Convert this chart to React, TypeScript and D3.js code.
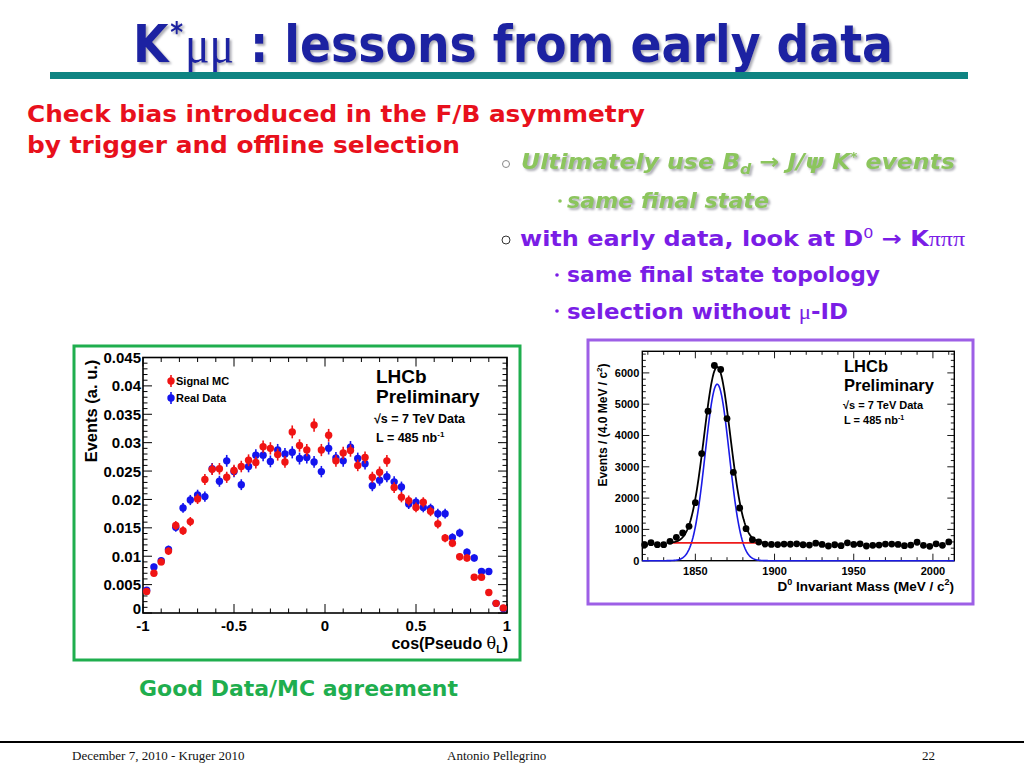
import { scaleLinear, range, line } from 'd3'

// ---- left plot: cos(Pseudo theta_L), 50 bins ----
const cosThetaBins = [
  -0.98, -0.94, -0.9, -0.86, -0.82, -0.78, -0.74, -0.7, -0.66, -0.62,
  -0.58, -0.54, -0.5, -0.46, -0.42, -0.38, -0.34, -0.3, -0.26, -0.22,
  -0.18, -0.14, -0.1, -0.06, -0.02, 0.02, 0.06, 0.1, 0.14, 0.18,
  0.22, 0.26, 0.3, 0.34, 0.38, 0.42, 0.46, 0.5, 0.54, 0.58,
  0.62, 0.66, 0.7, 0.74, 0.78, 0.82, 0.86, 0.9, 0.94, 0.98,
]
const signalMC = [
  0.0038, 0.007, 0.009, 0.0109, 0.0154, 0.0145, 0.0161, 0.0201, 0.0235, 0.0253,
  0.0254, 0.0239, 0.0251, 0.0258, 0.0269, 0.0265, 0.0293, 0.029, 0.0279, 0.0266,
  0.0319, 0.0295, 0.0287, 0.0331, 0.0287, 0.0313, 0.0268, 0.0282, 0.0286, 0.026,
  0.0274, 0.0239, 0.0248, 0.0268, 0.0221, 0.0204, 0.0198, 0.0186, 0.0195, 0.0179,
  0.0157, 0.0132, 0.0123, 0.0099, 0.0097, 0.0063, 0.0063, 0.0036, 0.0017, 0.0009,
]
const realData = [
  0.004, 0.0081, 0.0092, 0.0112, 0.0151, 0.0185, 0.0199, 0.0208, 0.0205, 0.0254,
  0.0232, 0.0268, 0.0249, 0.0226, 0.0258, 0.0278, 0.0278, 0.0267, 0.0287, 0.028,
  0.0283, 0.0272, 0.0274, 0.0266, 0.0249, 0.029, 0.0273, 0.0268, 0.0292, 0.0272,
  0.0263, 0.0224, 0.0234, 0.024, 0.0231, 0.0222, 0.0192, 0.0195, 0.0186, 0.0184,
  0.0175, 0.0175, 0.0133, 0.0141, 0.0107, 0.0097, 0.0073, 0.0073, 0.0017, 0.0008,
]
const cosTicks = [-1, -0.5, 0, 0.5, 1]
const cosTickLabels = ['-1', '-0.5', '0', '0.5', '1']
const eventTicks = [0, 0.005, 0.01, 0.015, 0.02, 0.025, 0.03, 0.035, 0.04, 0.045]
const eventTickLabels = ['0', '0.005', '0.01', '0.015', '0.02', '0.025', '0.03', '0.035', '0.04', '0.045']

// ---- right plot: D0 invariant mass, 4 MeV bins ----
const massBins = [
  1818, 1822, 1826, 1830, 1834, 1838, 1842, 1846, 1850, 1854, 1858, 1862, 1866,
  1870, 1874, 1878, 1882, 1886, 1890, 1894, 1898, 1902, 1906, 1910, 1914, 1918,
  1922, 1926, 1930, 1934, 1938, 1942, 1946, 1950, 1954, 1958, 1962, 1966, 1970,
  1974, 1978, 1982, 1986, 1990, 1994, 1998, 2002, 2006, 2010,
]
const massCounts = [
  512, 576, 512, 512, 618, 746, 885, 1098, 1855, 3422, 4776, 6237, 6109,
  4542, 2825, 1684, 1023, 672, 597, 530, 520, 515, 530, 525, 540, 510,
  500, 560, 520, 470, 510, 480, 570, 520, 540, 470, 490, 500, 530,
  530, 520, 480, 500, 590, 490, 460, 540, 490, 600,
]
const massTicks = [1850, 1900, 1950, 2000]
const countTicks = [0, 1000, 2000, 3000, 4000, 5000, 6000]

// fit result (gaussian signal + flat background)
const fitMean = 1863.8
const sigSigma = 7.6
const sigPeak = 5640
const totSigma = 8.3
const totPeak = 5620
const bkgLevel = 570

const ROOT_FONT = 'Liberation Sans, Arial, sans-serif'
const SLIDE_FONT = 'DejaVu Sans, sans-serif'
const GREEK = 'Liberation Serif, serif'

const AnglePlot = () => {
  const x0 = 143, x1 = 507, y0 = 613, y1 = 357.5
  const x = scaleLinear().domain([-1, 1]).range([x0, x1])
  const y = scaleLinear().domain([0, 0.045]).range([y0, y1])
  const minorY = range(0, 0.0451, 0.001).filter((_, i) => i % 5 !== 0)
  const minorX = range(-1, 1.001, 0.1).filter((_, i) => i % 5 !== 0)
  const err = (v: number) => 0.0011 * Math.sqrt(v / 0.03)

  const points = (vals: number[], color: string) =>
    vals.map((v, i) => (
      <g key={color + i}>
        <line x1={x(cosThetaBins[i])} x2={x(cosThetaBins[i])} y1={y(v + err(v))} y2={y(Math.max(0, v - err(v)))} stroke={color} strokeWidth={1.6} />
        <circle cx={x(cosThetaBins[i])} cy={y(v)} r={3.7} fill={color} />
      </g>
    ))

  return (
    <g>
      <rect x={74} y={346} width={446} height={314} fill="none" stroke="#1fae4e" strokeWidth={3} />
      <rect x={x0} y={y1} width={x1 - x0} height={y0 - y1} fill="#fff" stroke="#000" strokeWidth={1.6} />
      {eventTicks.map(t => (
        <g key={'ym' + t}>
          <line x1={x0} x2={x0 + 9} y1={y(t)} y2={y(t)} stroke="#000" />
          <line x1={x1} x2={x1 - 9} y1={y(t)} y2={y(t)} stroke="#000" />
        </g>
      ))}
      {minorY.map(t => (
        <g key={'yn' + t}>
          <line x1={x0} x2={x0 + 4.5} y1={y(t)} y2={y(t)} stroke="#000" />
          <line x1={x1} x2={x1 - 4.5} y1={y(t)} y2={y(t)} stroke="#000" />
        </g>
      ))}
      {cosTicks.map(t => (
        <g key={'xm' + t}>
          <line x1={x(t)} x2={x(t)} y1={y0} y2={y0 - 9} stroke="#000" />
          <line x1={x(t)} x2={x(t)} y1={y1} y2={y1 + 9} stroke="#000" />
        </g>
      ))}
      {minorX.map(t => (
        <g key={'xn' + t}>
          <line x1={x(t)} x2={x(t)} y1={y0} y2={y0 - 4.5} stroke="#000" />
          <line x1={x(t)} x2={x(t)} y1={y1} y2={y1 + 4.5} stroke="#000" />
        </g>
      ))}
      <g fontFamily={ROOT_FONT} fontWeight="bold" fontSize={15}>
        {eventTicks.map((t, i) => (
          <text key={'yl' + t} x={x0 - 2} y={y(t) + (t === 0 ? 1 : 5.5)} textAnchor="end">{eventTickLabels[i]}</text>
        ))}
        {cosTicks.map((t, i) => (
          <text key={'xl' + t} x={x(t)} y={631} textAnchor="middle">{cosTickLabels[i]}</text>
        ))}
      </g>
      <text transform="translate(97,411) rotate(-90)" textAnchor="middle" fontFamily={ROOT_FONT} fontWeight="bold" fontSize={16.5}>Events (a. u.)</text>
      <text x={508} y={649} textAnchor="end" fontFamily={ROOT_FONT} fontWeight="bold" fontSize={16}>
        cos(Pseudo <tspan fontFamily="DejaVu Serif, serif" fontWeight="normal">θ</tspan><tspan dy={4} fontSize={10.5}>L</tspan><tspan dy={-4}>)</tspan>
      </text>
      {points(realData, '#1414ee')}
      {points(signalMC, '#f01414')}
      {/* legend */}
      <g fontFamily={ROOT_FONT} fontWeight="bold" fontSize={11}>
        <line x1={171} x2={171} y1={375} y2={387} stroke="#f01414" strokeWidth={1.6} />
        <circle cx={171} cy={381} r={3.7} fill="#f01414" />
        <text x={176} y={385}>Signal MC</text>
        <line x1={171} x2={171} y1={392} y2={404} stroke="#1414ee" strokeWidth={1.6} />
        <circle cx={171} cy={398} r={3.7} fill="#1414ee" />
        <text x={176} y={402}>Real Data</text>
      </g>
      <g fontFamily={ROOT_FONT} fontWeight="bold">
        <text x={376} y={383} fontSize={19}>LHCb</text>
        <text x={376} y={403} fontSize={19}>Preliminary</text>
        <text x={374} y={423} fontSize={12.5}>√s = 7 TeV Data</text>
        <text x={376} y={442} fontSize={12.5}>L = 485 nb<tspan dy={-5} fontSize={8}>-1</tspan></text>
      </g>
    </g>
  )
}

const MassPlot = () => {
  const x0 = 642.3, x1 = 954.3, y0 = 560.7, y1 = 351.3
  const x = scaleLinear().domain([1816.5, 2013.5]).range([x0, x1])
  const y = scaleLinear().domain([0, 6690]).range([y0, y1])
  const minorY = range(0, 6601, 200).filter(t => t % 1000 !== 0)
  const minorX = range(1820, 2011, 10).filter(t => t % 50 !== 0)

  const gauss = (m: number, peak: number, s: number) => peak * Math.exp(-((m - fitMean) ** 2) / (2 * s * s))
  const sigPath = line<number>().x(m => x(m)).y(m => y(gauss(m, sigPeak, sigSigma)))(range(1816.5, 2013.6, 0.5))
  const totPath = line<number>().x(m => x(m)).y(m => y(bkgLevel + gauss(m, totPeak, totSigma)))(range(1832, 1895.1, 0.5))
  const bkgPath = line<number>().x(m => x(m)).y(() => y(bkgLevel))([1835, 1891])

  return (
    <g>
      <rect x={588} y={340} width={385} height={264} fill="none" stroke="#9d5fe6" strokeWidth={3} />
      <rect x={x0} y={y1} width={x1 - x0} height={y0 - y1} fill="#fff" stroke="#000" strokeWidth={1.4} />
      {countTicks.map(t => (
        <g key={'ym' + t}>
          <line x1={x0} x2={x0 + 7} y1={y(t)} y2={y(t)} stroke="#000" strokeWidth={0.9} />
          <line x1={x1} x2={x1 - 7} y1={y(t)} y2={y(t)} stroke="#000" strokeWidth={0.9} />
        </g>
      ))}
      {minorY.map(t => (
        <g key={'yn' + t}>
          <line x1={x0} x2={x0 + 3.5} y1={y(t)} y2={y(t)} stroke="#000" strokeWidth={0.9} />
          <line x1={x1} x2={x1 - 3.5} y1={y(t)} y2={y(t)} stroke="#000" strokeWidth={0.9} />
        </g>
      ))}
      {massTicks.map(t => (
        <g key={'xm' + t}>
          <line x1={x(t)} x2={x(t)} y1={y0} y2={y0 - 7} stroke="#000" strokeWidth={0.9} />
          <line x1={x(t)} x2={x(t)} y1={y1} y2={y1 + 7} stroke="#000" strokeWidth={0.9} />
        </g>
      ))}
      {minorX.map(t => (
        <g key={'xn' + t}>
          <line x1={x(t)} x2={x(t)} y1={y0} y2={y0 - 3.5} stroke="#000" strokeWidth={0.9} />
          <line x1={x(t)} x2={x(t)} y1={y1} y2={y1 + 3.5} stroke="#000" strokeWidth={0.9} />
        </g>
      ))}
      <g fontFamily={ROOT_FONT} fontWeight="bold" fontSize={11}>
        {countTicks.map(t => (
          <text key={'yl' + t} x={x0 - 3} y={y(t) + 4} textAnchor="end">{t}</text>
        ))}
        {massTicks.map(t => (
          <text key={'xl' + t} x={x(t)} y={575} textAnchor="middle">{t}</text>
        ))}
      </g>
      <text transform="translate(607,425) rotate(-90)" textAnchor="middle" fontFamily={ROOT_FONT} fontWeight="bold" fontSize={12}>
        Events / (4.0 MeV / c<tspan dy={-5} fontSize={8}>2</tspan><tspan dy={5}>)</tspan>
      </text>
      <text x={954} y={591} textAnchor="end" fontFamily={ROOT_FONT} fontWeight="bold" fontSize={13.5}>
        D<tspan dy={-6} fontSize={9}>0</tspan><tspan dy={6}> Invariant Mass (MeV / c</tspan><tspan dy={-6} fontSize={9}>2</tspan><tspan dy={6}>)</tspan>
      </text>
      <path d={sigPath || ''} fill="none" stroke="#1a1ae6" strokeWidth={1.6} />
      <path d={bkgPath || ''} fill="none" stroke="#ee1a1a" strokeWidth={1.6} />
      <path d={totPath || ''} fill="none" stroke="#000" strokeWidth={1.8} />
      {massCounts.map((c, i) => (
        <g key={'p' + i}>
          <line x1={x(massBins[i])} x2={x(massBins[i])} y1={y(c + Math.sqrt(c))} y2={y(c - Math.sqrt(c))} stroke="#000" />
          <circle cx={x(massBins[i])} cy={y(c)} r={3.4} fill="#000" />
        </g>
      ))}
      <g fontFamily={ROOT_FONT} fontWeight="bold">
        <text x={844} y={372} fontSize={16.5}>LHCb</text>
        <text x={844} y={391} fontSize={16.5}>Preliminary</text>
        <text x={843} y={409} fontSize={11}>√s = 7 TeV Data</text>
        <text x={844} y={424} fontSize={11}>L = 485 nb<tspan dy={-4} fontSize={7}>-1</tspan></text>
      </g>
    </g>
  )
}

const App = () => {
  const green = '#8cc55d'
  const purple = '#7a1de6'
  const titleBlue = '#1e22a2'
  return (
    <svg width={1024} height={768} viewBox="0 0 1024 768" style={{ position: 'absolute', left: 0, top: 0, background: '#fff' }}>
      <defs>
        <filter id="shadow" x="-5%" y="-20%" width="110%" height="150%">
          <feDropShadow dx={2} dy={2} stdDeviation={0.8} floodColor="#8a8a96" floodOpacity={0.7} />
        </filter>
      </defs>
      {/* title */}
      <text x={133} y={62} textLength={760} lengthAdjust="spacingAndGlyphs" fill={titleBlue}
        fontFamily={SLIDE_FONT} fontWeight="bold" fontSize={52} filter="url(#shadow)">
        K<tspan dx={2} dy={-20} fontSize={28}>*</tspan><tspan dx={2} dy={20} fontFamily={GREEK} fontWeight="normal">μμ</tspan><tspan>{' : lessons from early data'}</tspan>
      </text>
      <rect x={50} y={72} width={918} height={7} fill="#0f8482" />

      {/* red statement */}
      <g fontFamily={SLIDE_FONT} fontWeight="bold" fontSize={23} fill="#e8101c">
        <text x={27} y={122} textLength={618} lengthAdjust="spacingAndGlyphs">Check bias introduced in the F/B asymmetry</text>
        <text x={27} y={153} textLength={433} lengthAdjust="spacingAndGlyphs">by trigger and offline selection</text>
      </g>

      {/* bullets */}
      <g fontFamily={SLIDE_FONT} fontWeight="bold" fontSize={21}>
        <circle cx={506} cy={164} r={3.5} fill="none" stroke="#888" strokeWidth={1} />
        <text x={521} y={169} fontStyle="italic" textLength={434} lengthAdjust="spacingAndGlyphs" fill={green} filter="url(#shadow)">
          Ultimately use B<tspan dy={5} fontSize={14}>d</tspan><tspan dy={-5}> → J/ψ K</tspan><tspan dy={-8} fontSize={12}>*</tspan><tspan dy={8}> events</tspan>
        </text>
        <circle cx={560} cy={201} r={1.8} fill={green} />
        <text x={567} y={208} fontStyle="italic" textLength={202} lengthAdjust="spacingAndGlyphs" fill={green} filter="url(#shadow)">same final state</text>

        <circle cx={506} cy={240} r={4} fill="none" stroke="#333" strokeWidth={1} />
        <text x={520} y={246} textLength={445} lengthAdjust="spacingAndGlyphs" fill={purple}>
          with early data, look at D<tspan dy={-8} fontSize={14} fontWeight="normal">0</tspan><tspan dy={8}> → K</tspan><tspan fontFamily={GREEK} fontWeight="normal">πππ</tspan>
        </text>
        <circle cx={557} cy={275} r={1.8} fill={purple} />
        <text x={567} y={282} textLength={313} lengthAdjust="spacingAndGlyphs" fill={purple}>same final state topology</text>
        <circle cx={557} cy={311} r={1.8} fill={purple} />
        <text x={567} y={319} textLength={281} lengthAdjust="spacingAndGlyphs" fill={purple}>
          selection without <tspan fontFamily={GREEK} fontWeight="normal">μ</tspan>-ID
        </text>
      </g>

      <AnglePlot />
      <MassPlot />

      <text x={139} y={696} fontFamily={SLIDE_FONT} fontWeight="bold" fontSize={21} textLength={319} lengthAdjust="spacingAndGlyphs" fill="#1fae4e">Good Data/MC agreement</text>

      {/* footer */}
      <line x1={0} x2={1024} y1={742} y2={742} stroke="#000" strokeWidth={1.8} />
      <g fontFamily="Liberation Serif, Times New Roman, serif" fontSize={13} fill="#111">
        <text x={72} y={760}>December 7, 2010 - Kruger 2010</text>
        <text x={447} y={760}>Antonio Pellegrino</text>
        <text x={922} y={760}>22</text>
      </g>
    </svg>
  )
}

export default App
